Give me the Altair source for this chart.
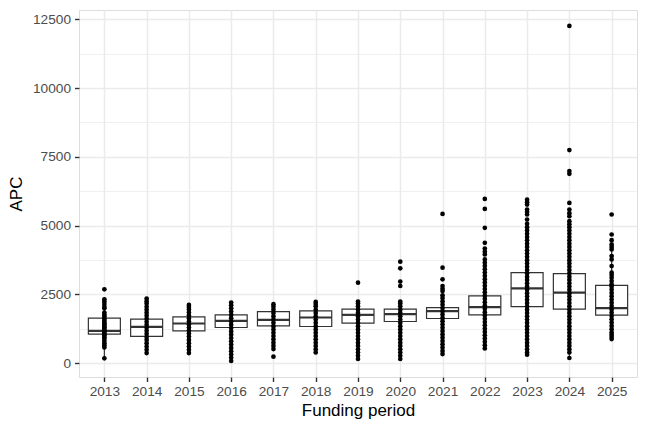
import altair as alt
import pandas as pd

years = [2013, 2014, 2015, 2016, 2017, 2018, 2019, 2020, 2021, 2022, 2023, 2024, 2025]

# box statistics
q1 = [1051, 966, 1171, 1292, 1353, 1328, 1449, 1510, 1618, 1751, 2053, 1957, 1739]
median = [1171, 1316, 1437, 1534, 1570, 1655, 1751, 1775, 1884, 2029, 2717, 2560, 1993]
q3 = [1630, 1594, 1678, 1751, 1872, 1896, 1957, 1957, 2017, 2440, 3285, 3249, 2826]
whisker_lo = [170, 362, 362, 72, 600, 500, 700, 850, 1030, 730, 300, 181, 870]
whisker_hi = [2400, 2343, 2113, 2198, 2138, 2222, 2234, 2234, 2600, 3450, 5100, 5157, 4311]

# APC values per funding period
apc_2013 = [170, 568, 650, 720, 800, 870, 940, 1000, 1050, 1100, 1150, 1200, 1250, 1300,
            1350, 1400, 1450, 1500, 1560, 1620, 1700, 1760, 1837, 1990, 2050, 2150, 2240,
            2319, 2681]
apc_2014 = [362, 480, 600, 720, 840, 950, 1060, 1170, 1280, 1390, 1500, 1610, 1720, 1830,
            1940, 2050, 2160, 2250, 2343]
apc_2015 = [362, 480, 600, 720, 840, 960, 1070, 1180, 1290, 1400, 1510, 1620, 1730, 1840,
            1950, 2040, 2113]
apc_2016 = [72, 190, 310, 430, 550, 670, 790, 910, 1030, 1150, 1270, 1390, 1510, 1630,
            1750, 1870, 1990, 2100, 2198]
apc_2017 = [230, 507, 620, 740, 860, 980, 1100, 1220, 1340, 1460, 1580, 1700, 1820, 1940,
            2050, 2138]
apc_2018 = [386, 500, 620, 740, 860, 980, 1100, 1220, 1340, 1460, 1580, 1700, 1820, 1940,
            2060, 2150, 2222]
apc_2019 = [145, 260, 380, 500, 620, 740, 860, 980, 1100, 1220, 1340, 1460, 1580, 1700,
            1820, 1940, 2060, 2160, 2234, 2923]
apc_2020 = [145, 260, 380, 500, 620, 740, 860, 980, 1100, 1220, 1340, 1460, 1580, 1700,
            1820, 1940, 2060, 2160, 2234, 2800, 2960, 3442, 3684]
apc_2021 = [326, 440, 560, 680, 800, 920, 1040, 1160, 1280, 1400, 1520, 1640, 1760, 1880,
            2000, 2120, 2240, 2360, 2464, 2620, 2700, 2800, 3043, 3466, 5422]
apc_2022 = [531, 650, 770, 890, 1010, 1130, 1250, 1370, 1490, 1610, 1730, 1850, 1970, 2090,
            2210, 2330, 2450, 2570, 2690, 2810, 2930, 3050, 3170, 3290, 3410, 3530, 3650,
            3768, 3950, 4050, 4160, 4372, 4915, 5604, 5966]
apc_2023 = [300, 386, 500, 620, 740, 860, 980, 1100, 1220, 1340, 1460, 1580, 1700, 1820,
            1940, 2060, 2180, 2300, 2420, 2540, 2660, 2780, 2900, 3020, 3140, 3260, 3380,
            3500, 3620, 3740, 3860, 3980, 4100, 4220, 4340, 4460, 4580, 4700, 4820, 4940,
            5060, 5217, 5400, 5500, 5580, 5760, 5850, 5940]
apc_2024 = [181, 386, 500, 620, 740, 860, 980, 1100, 1220, 1340, 1460, 1580, 1700, 1820,
            1940, 2060, 2180, 2300, 2420, 2540, 2660, 2780, 2900, 3020, 3140, 3260, 3380,
            3500, 3620, 3740, 3860, 3980, 4100, 4220, 4340, 4460, 4580, 4700, 4820, 4940,
            5050, 5157, 5337, 5450, 5580, 5821, 6880, 6980, 7743, 12258]
apc_2025 = [870, 950, 1030, 1112, 1232, 1350, 1470, 1590, 1710, 1830, 1950, 2070, 2190,
            2310, 2430, 2550, 2670, 2780, 2862, 2982, 3100, 3200, 3285, 3525, 3768, 3889,
            4130, 4220, 4311, 4467, 4674, 5400]

apc_lists = [apc_2013, apc_2014, apc_2015, apc_2016, apc_2017, apc_2018, apc_2019,
             apc_2020, apc_2021, apc_2022, apc_2023, apc_2024, apc_2025]

points = pd.DataFrame(
    [{"year": str(y), "APC": v} for y, vals in zip(years, apc_lists) for v in vals]
)
boxes = pd.DataFrame({
    "year": [str(y) for y in years],
    "q1": q1, "median": median, "q3": q3, "lo": whisker_lo, "hi": whisker_hi,
})

FONT = "Liberation Sans"
DARK = "#333333"
all_vals = [0, 1250, 2500, 3750, 5000, 6250, 7500, 8750, 10000, 11250, 12500]

x_enc = alt.X(
    "year:O",
    scale=alt.Scale(type="point", padding=0.6),
    sort=[str(y) for y in years],
    axis=alt.Axis(
        title="Funding period", labelAngle=0, labelFontSize=13.7, labelColor="#4D4D4D",
        labelFont=FONT, titleFont=FONT, titleFontSize=17, titleFontWeight="normal",
        titleColor="black", tickColor=DARK, tickSize=4.5, tickWidth=1.4, labelPadding=3,
        titlePadding=4, domain=False, grid=True, gridColor="#EBEBEB", gridWidth=1.5,
    ),
)

yscale = alt.Scale(domain=[-509, 12838], nice=False, zero=False)
y_axis = alt.Axis(
    title="APC", values=all_vals, format="d",
    labelExpr="datum.value % 2500 === 0 ? datum.label : ''",
    labelFontSize=13.7, labelColor="#4D4D4D", labelFont=FONT, titleFont=FONT,
    titleFontSize=17, titleFontWeight="normal", titleColor="black",
    tickColor=DARK, tickSize=4.5, tickWidth=1.4, labelPadding=4, titlePadding=7,
    tickOpacity={"condition": {"test": "datum.value % 2500 !== 0", "value": 0}, "value": 1},
    gridWidth={"condition": {"test": "datum.value % 2500 !== 0", "value": 0.75}, "value": 1.5},
    domain=False, grid=True, gridColor="#EBEBEB",
)

whiskers = alt.Chart(boxes).mark_rule(color=DARK, strokeWidth=1.2).encode(
    x=x_enc,
    y=alt.Y("lo:Q", scale=yscale, axis=y_axis),
    y2="hi:Q",
)
box = alt.Chart(boxes).mark_bar(size=32, fill="white", stroke=DARK, strokeWidth=1.2).encode(
    x=x_enc,
    y=alt.Y("q1:Q", scale=yscale, axis=y_axis),
    y2="q3:Q",
)
med = alt.Chart(boxes).mark_tick(orient="horizontal", size=32, thickness=2.2, color=DARK,
                                 opacity=1).encode(
    x=x_enc,
    y=alt.Y("median:Q", scale=yscale, axis=y_axis),
)
pts = alt.Chart(points).mark_circle(size=22, color="black", opacity=1).encode(
    x=x_enc,
    y=alt.Y("APC:Q", scale=yscale, axis=y_axis),
)

chart = alt.layer(whiskers, box, med, pts).properties(
    width=558, height=367,
    autosize=alt.AutoSizeParams(type="none"),
    padding={"left": 71, "top": 2, "right": 2, "bottom": 47},
).configure_view(stroke=DARK, strokeWidth=1.4).configure(background="white")

chart.save("out.html", embed_options={"renderer": "svg", "actions": False})
